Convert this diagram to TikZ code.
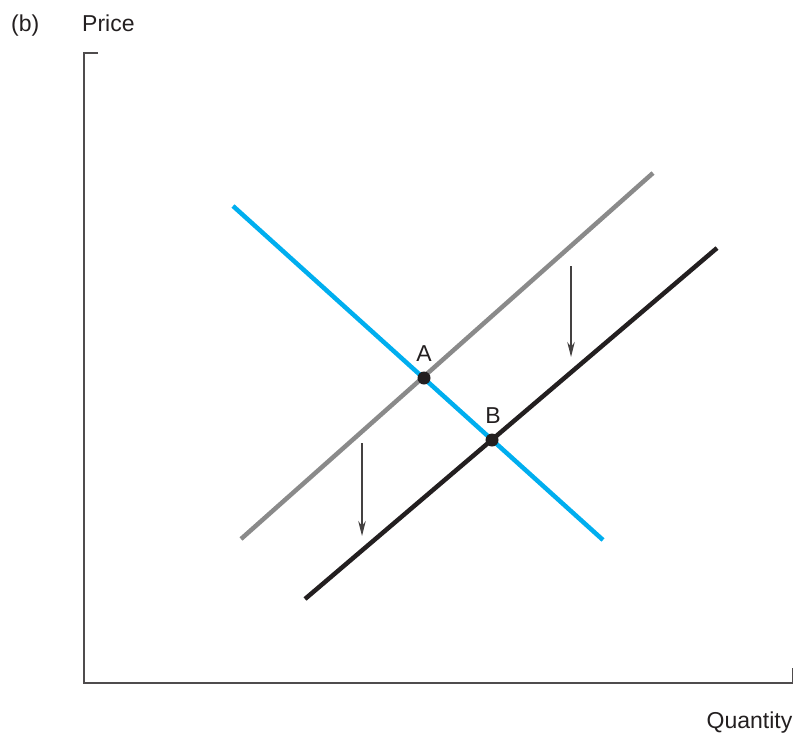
\documentclass[tikz,border=0pt]{standalone}
\usepackage{fontspec}
\setmainfont{Liberation Sans}
\usetikzlibrary{arrows.meta}
\definecolor{dcyan}{HTML}{00AEEF}
\definecolor{dgray}{HTML}{8A8A8A}
\definecolor{dblack}{HTML}{231F20}
\begin{document}
\begin{tikzpicture}[x=1pt,y=-1pt,
  axisline/.style={draw=dblack!80, line width=1.5pt},
  curve/.style={line width=4.5pt},
  shiftarrow/.style={draw=dblack!85, line width=1.3pt, -{Stealth[length=15pt,width=7.5pt]}},
  dotpt/.style={circle, fill=dblack, inner sep=0pt, minimum size=13pt},
  lbl/.style={font=\fontsize{23}{27}\selectfont, inner sep=0pt, anchor=base, text=dblack}]
\useasboundingbox (0,0) rectangle (799,733);
% axes
\coordinate (ytop) at (84,53);
\coordinate (ytick) at (98,53);
\coordinate (origin) at (84,683);
\coordinate (xend) at (792.5,683);
\coordinate (xtick) at (792.5,668);
\draw[axisline] (ytick) -- (ytop) -- (origin) -- (xend) -- (xtick);
% curves
\coordinate (g1) at (241,539);
\coordinate (g2) at (653,173);
\coordinate (c1) at (233,206);
\coordinate (c2) at (603,540);
\coordinate (k1) at (305,599);
\coordinate (k2) at (717,248);
\draw[curve, dgray] (g1) -- (g2);
\draw[curve, dblack] (k1) -- (k2);
\draw[curve, dcyan] (c1) -- (c2);
% points
\node[dotpt] (A) at (424,378) {};
\node[dotpt] (B) at (492,440) {};
\node[lbl] (Alab) at (424,361) {A};
\node[lbl] (Blab) at (493,423) {B};
% shift arrows
\coordinate (a1s) at (362,443);
\coordinate (a1e) at (362,536);
\coordinate (a2s) at (571,266);
\coordinate (a2e) at (571,357);
\draw[shiftarrow] (a1s) -- (a1e);
\draw[shiftarrow] (a2s) -- (a2e);
% texts
\node[lbl, anchor=base west] (blab) at (11,31.5) {(b)};
\node[lbl, anchor=base west] (price) at (82,31.5) {Price};
\node[lbl, anchor=base east] (qty) at (792.5,728) {Quantity};
\end{tikzpicture}
\end{document}
